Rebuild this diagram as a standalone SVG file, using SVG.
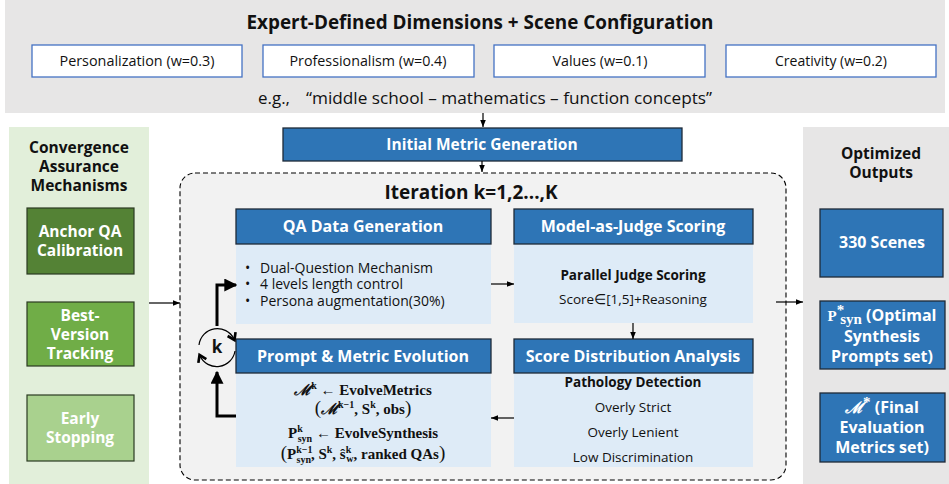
<svg xmlns="http://www.w3.org/2000/svg" width="949" height="484" viewBox="0 0 949 484">
<style>
.s{font-family:"Open Sans","Noto Sans",sans-serif}
.b{font-family:"Open Sans","Noto Sans",sans-serif;font-weight:bold}
.w{fill:#fff}
.hdr{fill:#2e75b6;stroke:#1e2a38;stroke-width:1.3}
.body{fill:#deebf7}
.dim{fill:#fff;stroke:#4472c4;stroke-width:1.3}
.f{font-family:"Liberation Serif","DejaVu Serif",serif;font-weight:bold;font-size:15px;fill:#111}
.scr{font-family:"DejaVu Serif",serif;font-style:italic;font-weight:bold}
.ln{stroke:#000;stroke-width:1.2;fill:none}
.tk{stroke:#000;stroke-width:3;fill:none}
</style>
<defs>
<marker id="a" viewBox="0 0 10 10" refX="10" refY="5" markerWidth="7" markerHeight="7" markerUnits="userSpaceOnUse" orient="auto"><path d="M0,1 L10,5 L0,9 z"/></marker>
<marker id="t" viewBox="0 0 10 10" refX="9" refY="5" markerWidth="13" markerHeight="13" markerUnits="userSpaceOnUse" orient="auto"><path d="M0,0 L10,5 L0,10 z"/></marker>
<marker id="c" viewBox="0 0 10 10" refX="6" refY="5" markerWidth="11" markerHeight="11" markerUnits="userSpaceOnUse" orient="auto"><path d="M1,1 L7,5 L1,9" fill="none" stroke="#000" stroke-width="2.4"/></marker>
</defs>

<!-- panels -->
<rect x="5" y="0" width="940" height="113" fill="#e7e6e6"/>
<rect x="9" y="127" width="140" height="357" fill="#e2efda"/>
<rect x="803" y="127" width="146" height="357" fill="#e7e6e6"/>
<rect x="180" y="173" width="606" height="307" rx="15" fill="#f2f2f2" stroke="#000" stroke-width="1.1" stroke-dasharray="5,3"/>

<g id="top">
<text class="b" x="480" y="29" font-size="20" text-anchor="middle" textLength="467" lengthAdjust="spacingAndGlyphs" fill="#111">Expert-Defined Dimensions + Scene Configuration</text>
<text class="s" x="258" y="104" font-size="16" fill="#111"><tspan textLength="32" lengthAdjust="spacingAndGlyphs">e.g.,</tspan><tspan x="306" textLength="406" lengthAdjust="spacingAndGlyphs">“middle school – mathematics – function concepts”</tspan></text>
</g>
<g id="dim1"><rect class="dim" x="32" y="45" width="210" height="32"/><text class="s" x="137" y="66" font-size="14" text-anchor="middle" textLength="155" lengthAdjust="spacingAndGlyphs" fill="#111">Personalization (w=0.3)</text></g>
<g id="dim2"><rect class="dim" x="263" y="45" width="211" height="32"/><text class="s" x="368" y="66" font-size="14" text-anchor="middle" textLength="157" lengthAdjust="spacingAndGlyphs" fill="#111">Professionalism (w=0.4)</text></g>
<g id="dim3"><rect class="dim" x="494" y="45" width="211" height="32"/><text class="s" x="600" y="66" font-size="14" text-anchor="middle" textLength="95" lengthAdjust="spacingAndGlyphs" fill="#111">Values (w=0.1)</text></g>
<g id="dim4"><rect class="dim" x="726" y="45" width="210" height="32"/><text class="s" x="831" y="66" font-size="14" text-anchor="middle" textLength="112" lengthAdjust="spacingAndGlyphs" fill="#111">Creativity (w=0.2)</text></g>

<g id="init"><rect class="hdr" x="283" y="128" width="399" height="33"/><text class="b w" x="482" y="150" font-size="15.5" text-anchor="middle">Initial Metric Generation</text></g>

<g id="iter"><text class="b" x="471" y="199" font-size="19" text-anchor="middle" fill="#111">Iteration k=1,2...,K</text></g>

<!-- left panel -->
<g id="conv">
<text class="b" x="79" y="153" font-size="15.5" text-anchor="middle" fill="#111">Convergence</text>
<text class="b" x="79" y="172" font-size="15.5" text-anchor="middle" fill="#111">Assurance</text>
<text class="b" x="79" y="191" font-size="15.5" text-anchor="middle" fill="#111">Mechanisms</text>
</g>
<g id="anchor"><rect x="27" y="208" width="107" height="66" fill="#548235" stroke="#2b3a22" stroke-width="1.2"/>
<text class="b w" x="80" y="237" font-size="15.5" text-anchor="middle">Anchor QA</text>
<text class="b w" x="80" y="256" font-size="15.5" text-anchor="middle">Calibration</text></g>
<g id="best"><rect x="27" y="302" width="107" height="64" fill="#70ad47" stroke="#2b3a22" stroke-width="1.2"/>
<text class="b w" x="80" y="321" font-size="15.5" text-anchor="middle">Best-</text>
<text class="b w" x="80" y="340" font-size="15.5" text-anchor="middle">Version</text>
<text class="b w" x="80" y="359" font-size="15.5" text-anchor="middle">Tracking</text></g>
<g id="early"><rect x="27" y="395" width="107" height="66" fill="#a9d18e" stroke="#2b3a22" stroke-width="1.2"/>
<text class="b w" x="80" y="424" font-size="15.5" text-anchor="middle">Early</text>
<text class="b w" x="80" y="443" font-size="15.5" text-anchor="middle">Stopping</text></g>

<!-- right panel -->
<g id="opt">
<text class="b" x="881" y="159" font-size="15.5" text-anchor="middle" fill="#111">Optimized</text>
<text class="b" x="881" y="178" font-size="15.5" text-anchor="middle" fill="#111">Outputs</text>
</g>
<g id="scenes"><rect class="hdr" x="820" y="209" width="123" height="68"/><text class="b w" x="882" y="248" font-size="16" text-anchor="middle">330 Scenes</text></g>
<g id="psyn"><rect class="hdr" x="820" y="301" width="125" height="68"/>
<text class="b w" x="882" y="321" font-size="16" text-anchor="middle"><tspan class="f" style="fill:#fff" font-size="16">P</tspan><tspan class="f" style="fill:#fff" font-size="9" dy="-6">*</tspan><tspan class="f" style="fill:#fff" font-size="10" dx="-4" dy="9">syn</tspan><tspan dy="-3"> (Optimal</tspan></text>
<text class="b w" x="882" y="342" font-size="16" text-anchor="middle">Synthesis</text>
<text class="b w" x="882" y="362" font-size="16" text-anchor="middle">Prompts set)</text></g>
<g id="mstar"><rect class="hdr" x="820" y="393" width="125" height="69"/>
<text class="b w" x="882" y="413" font-size="16" text-anchor="middle"><tspan class="scr" font-weight="normal">ℳ</tspan><tspan font-size="9" dy="-6" class="f" style="fill:#fff">*</tspan><tspan dy="6"> (Final</tspan></text>
<text class="b w" x="882" y="433" font-size="16" text-anchor="middle">Evaluation</text>
<text class="b w" x="882" y="453" font-size="16" text-anchor="middle">Metrics set)</text></g>

<!-- inner nodes -->
<g id="qagen"><rect class="body" x="236" y="244" width="255" height="80"/><rect class="hdr" x="236" y="209" width="255" height="35"/>
<text class="b w" x="363" y="232" font-size="16" text-anchor="middle">QA Data Generation</text>
<g class="s" font-size="14" fill="#111">
<text x="245" y="273">•</text><text x="260" y="273">Dual-Question Mechanism</text>
<text x="245" y="289">•</text><text x="260" y="289">4 levels length control</text>
<text x="245" y="306">•</text><text x="260" y="306">Persona augmentation(30%)</text>
</g></g>

<g id="judge"><rect class="body" x="514" y="244" width="239" height="79"/><rect class="hdr" x="514" y="209" width="239" height="35"/>
<text class="b w" x="633" y="232" font-size="16" text-anchor="middle">Model-as-Judge Scoring</text>
<text class="b" x="633" y="280" font-size="13.5" text-anchor="middle" fill="#111">Parallel Judge Scoring</text>
<text class="s" x="633" y="304" font-size="13.5" text-anchor="middle" fill="#111">Score∈[1,5]+Reasoning</text></g>

<g id="dist"><rect class="body" x="514" y="373" width="239" height="94"/><rect class="hdr" x="514" y="339" width="239" height="34"/>
<text class="b w" x="633" y="362" font-size="16" text-anchor="middle">Score Distribution Analysis</text>
<text class="b" x="633" y="387" font-size="13.5" text-anchor="middle" fill="#111">Pathology Detection</text>
<text class="s" x="633" y="412" font-size="13.5" text-anchor="middle" fill="#111">Overly Strict</text>
<text class="s" x="633" y="437" font-size="13.5" text-anchor="middle" fill="#111">Overly Lenient</text>
<text class="s" x="633" y="462" font-size="13.5" text-anchor="middle" fill="#111">Low Discrimination</text></g>

<g id="evol"><rect class="body" x="236" y="373" width="255" height="94"/><rect class="hdr" x="236" y="339" width="255" height="34"/>
<text class="b w" x="363" y="362" font-size="16" text-anchor="middle">Prompt &amp; Metric Evolution</text>
<text class="f" x="363" y="395" text-anchor="middle"><tspan class="scr">ℳ</tspan><tspan dy="-6" font-size="10">k</tspan><tspan dy="6"> ← EvolveMetrics</tspan></text>
<text class="f" x="363" y="414" text-anchor="middle"><tspan font-size="19" font-weight="normal">(</tspan><tspan class="scr">ℳ</tspan><tspan dy="-6" font-size="10">k−1</tspan><tspan dy="6">, S</tspan><tspan dy="-6" font-size="10">k</tspan><tspan dy="6">, obs</tspan><tspan font-size="19" font-weight="normal">)</tspan></text>
<text class="f" x="363" y="438" text-anchor="middle">P<tspan dy="-6" font-size="10">k</tspan><tspan dx="-5" dy="10" font-size="10">syn</tspan><tspan dy="-4"> ←  EvolveSynthesis</tspan></text>
<text class="f" x="363" y="459" text-anchor="middle"><tspan font-size="19" font-weight="normal">(</tspan>P<tspan dy="-6" font-size="10">k−1</tspan><tspan dx="-16" dy="10" font-size="10">syn</tspan><tspan dy="-4">, S</tspan><tspan dy="-6" font-size="10">k</tspan><tspan dy="6">, ŝ</tspan><tspan dy="-6" font-size="10">k</tspan><tspan dx="-5" dy="9" font-size="10">w</tspan><tspan dy="-3">, ranked QAs</tspan><tspan font-size="19" font-weight="normal">)</tspan></text></g>

<g id="cycle">
<path d="M199,345 A18.5 18.5 0 0 1 234,339" class="ln" stroke-width="2.5" marker-end="url(#c)"/>
<path d="M235,351 A18.5 18.5 0 0 1 200,356" class="ln" stroke-width="2.5" marker-end="url(#c)"/>
<text class="b" x="217" y="353" font-size="17" text-anchor="middle" fill="#111">k</text>
</g>

<g id="connectors">
<path class="ln" d="M483,113 V127" marker-end="url(#a)"/>
<path class="ln" d="M482,161 V172" marker-end="url(#a)"/>
<path class="ln" d="M149,303 H180" marker-end="url(#a)"/>
<path class="ln" d="M776,302 H803" marker-end="url(#a)"/>
<path class="ln" d="M491,284 H514" marker-end="url(#a)"/>
<path class="ln" d="M633,323 V339" marker-end="url(#a)"/>
<path class="ln" d="M514,418 H491" marker-end="url(#a)"/>
<path class="tk" d="M236,416 H217 V372" marker-end="url(#t)"/>
<path class="tk" d="M217,326 V285 H236" marker-end="url(#t)"/>
</g>
</svg>
